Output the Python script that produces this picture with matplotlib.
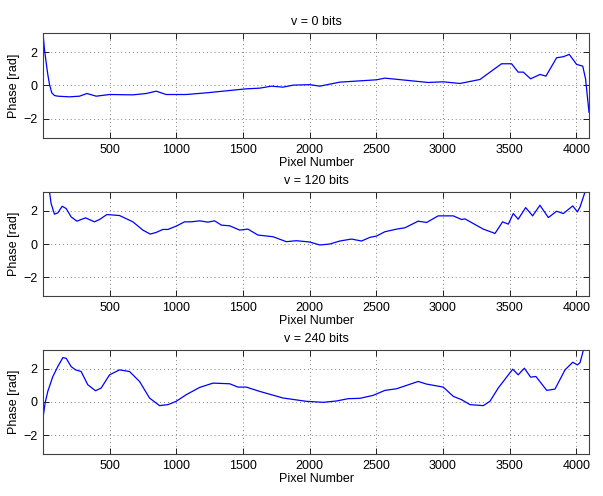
import matplotlib

matplotlib.use("Agg")
import matplotlib.pyplot as plt

# phase profiles, (pixel, phase in rad)
x_v0 = [1, 12, 25, 37, 50, 67, 87, 112, 200, 275, 330, 400, 500, 675, 775, 850,
        925, 1075, 1226, 1426, 1526, 1626, 1714, 1801, 1876, 2002, 2077, 2227,
        2502, 2565, 2890, 3003, 3128, 3278, 3440, 3515, 3565, 3603, 3658, 3728,
        3773, 3853, 3903, 3948, 4003, 4049, 4070, 4096]
y_v0 = [3.14, 2.16, 1.36, 0.66, 0.06, -0.44, -0.6, -0.64, -0.68, -0.64, -0.48,
        -0.64, -0.54, -0.56, -0.48, -0.34, -0.54, -0.54, -0.44, -0.28, -0.2,
        -0.16, -0.04, -0.1, 0.02, 0.05, -0.04, 0.2, 0.34, 0.44, 0.18, 0.22, 0.12,
        0.36, 1.3, 1.3, 0.8, 0.8, 0.4, 0.66, 0.56, 1.66, 1.72, 1.86, 1.26, 1.16,
        0.4, -1.6]

x_v120 = [1, 30, 50, 62, 87, 112, 145, 175, 212, 255, 320, 387, 425, 480, 575,
          675, 750, 805, 850, 900, 938, 1000, 1063, 1113, 1176, 1238, 1288, 1339,
          1401, 1476, 1538, 1613, 1726, 1826, 1901, 2002, 2077, 2152, 2227, 2315,
          2390, 2452, 2502, 2565, 2653, 2715, 2815, 2878, 2965, 3078, 3140, 3165,
          3303, 3391, 3448, 3491, 3528, 3565, 3621, 3673, 3728, 3791, 3853, 3903,
          3974, 4009, 4029, 4066, 4096]
y_v120 = [5.5, 4.2, 3.14, 2.44, 1.8, 1.88, 2.28, 2.14, 1.64, 1.38, 1.58, 1.34,
          1.48, 1.78, 1.72, 1.34, 0.84, 0.6, 0.7, 0.88, 0.88, 1.08, 1.34, 1.34,
          1.4, 1.32, 1.4, 1.14, 1.1, 0.84, 0.9, 0.54, 0.44, 0.14, 0.2, 0.12,
          -0.06, 0.0, 0.18, 0.3, 0.18, 0.4, 0.48, 0.74, 0.9, 0.98, 1.38, 1.3, 1.7,
          1.7, 1.48, 1.52, 0.9, 0.64, 1.34, 1.2, 1.84, 1.5, 2.2, 1.7, 2.34, 1.6,
          1.98, 1.84, 2.3, 1.94, 2.24, 3.14, 4.0]

x_v240 = [1, 17, 37, 75, 112, 150, 175, 212, 245, 287, 337, 395, 437, 500, 575,
          650, 725, 800, 875, 938, 1000, 1075, 1176, 1276, 1401, 1463, 1526, 1626,
          1801, 1976, 2102, 2202, 2290, 2377, 2477, 2565, 2653, 2815, 2878, 3003,
          3078, 3140, 3203, 3303, 3353, 3415, 3491, 3524, 3565, 3611, 3658, 3698,
          3779, 3841, 3916, 3974, 4009, 4029, 4054, 4096]
y_v240 = [-0.96, -0.06, 0.64, 1.54, 2.14, 2.68, 2.64, 2.14, 1.94, 1.84, 1.04,
          0.68, 0.84, 1.64, 1.94, 1.84, 1.24, 0.24, -0.22, -0.16, 0.04, 0.44,
          0.88, 1.14, 1.1, 0.9, 0.9, 0.64, 0.24, 0.04, -0.02, 0.06, 0.2, 0.22, 0.4,
          0.7, 0.8, 1.24, 1.08, 0.9, 0.34, 0.14, -0.16, -0.22, 0.04, 0.84, 1.64,
          1.98, 1.64, 2.04, 1.5, 1.54, 0.7, 0.78, 1.94, 2.4, 2.24, 2.38, 3.14, 4.2]

panels = [("v = 0 bits", x_v0, y_v0),
          ("v = 120 bits", x_v120, y_v120),
          ("v = 240 bits", x_v240, y_v240)]

plt.rcParams["font.family"] = ["Liberation Sans", "DejaVu Sans"]
plt.rcParams["font.size"] = 9

fig = plt.figure(figsize=(6.03, 4.96), dpi=100)
bottoms = [0.7218, 0.4032, 0.0847]
heights = [0.2117, 0.2097, 0.2097]

for (title, xs, ys), b, h in zip(panels, bottoms, heights):
    ax = fig.add_axes([0.0713, b, 0.9055, h])
    ax.plot(xs, ys, color="blue", linewidth=0.9)
    ax.set_xlim(1, 4096)
    ax.set_ylim(-3.1416, 3.1416)
    ax.set_xticks(range(500, 4001, 500))
    ax.set_yticks([-2, 0, 2])
    ax.grid(True, linestyle=(0, (1, 3)), color="#808080", linewidth=0.7)
    ax.tick_params(direction="in", top=True, right=True, length=4, width=0.6,
                   pad=4)
    for sp in ax.spines.values():
        sp.set_linewidth(0.8)
        sp.set_color("#404040")
    ax.set_title(title, fontsize=9, pad=6)
    ax.set_xlabel("Pixel Number", labelpad=1)
    ax.set_ylabel("Phase [rad]", labelpad=2)

fig.savefig("out.png", dpi=100)
